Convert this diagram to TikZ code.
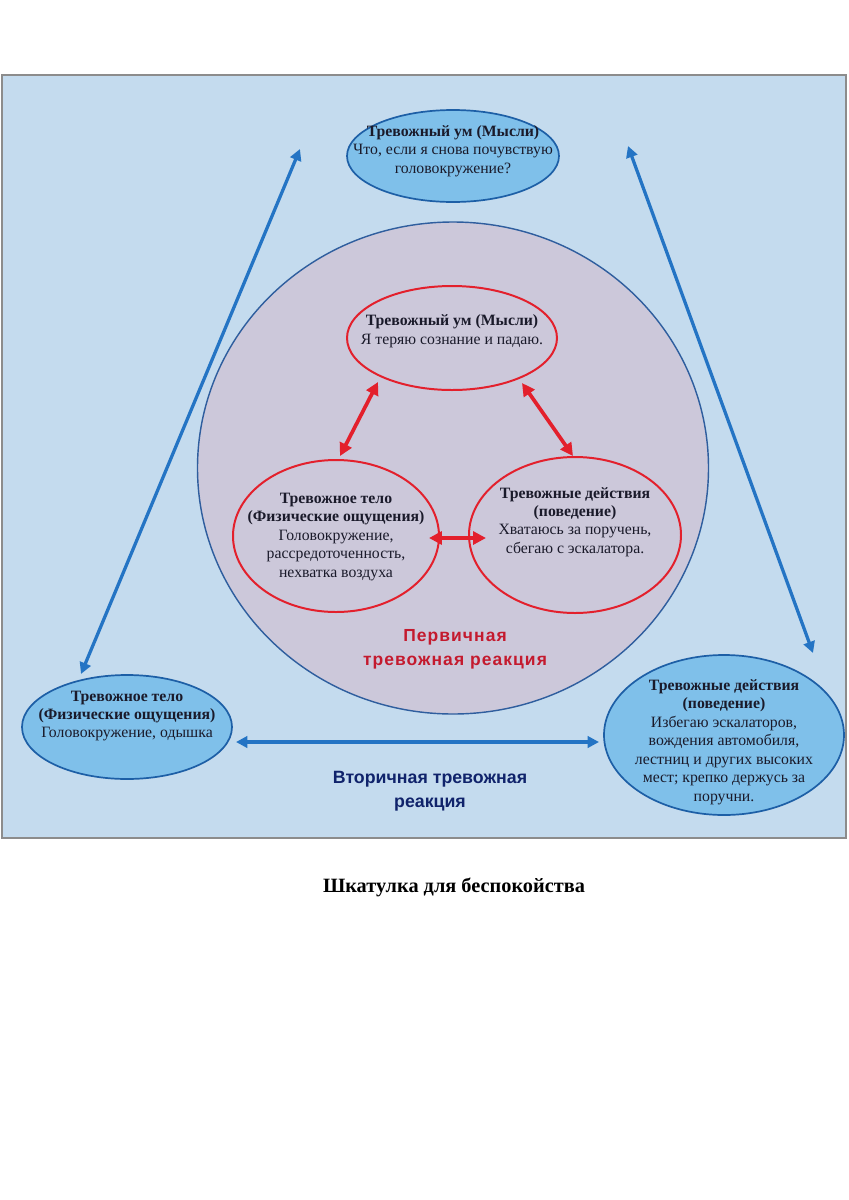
\documentclass[tikz,border=0pt]{standalone}
\usepackage{fontspec}
\setmainfont{Liberation Serif}
\newfontfamily\headsans{Liberation Sans}
\newfontfamily\headsanswide[LetterSpace=6]{Liberation Sans}
\usetikzlibrary{shapes.geometric, arrows.meta, positioning, calc}
\definecolor{panelblue}{HTML}{C4DBEE}
\definecolor{panelgray}{HTML}{8C8C8C}
\definecolor{circfill}{HTML}{CCC8DA}
\definecolor{circline}{HTML}{2F5E9E}
\definecolor{ovalfill}{HTML}{7FC0EA}
\definecolor{ovalline}{HTML}{1D5FA6}
\definecolor{loopred}{HTML}{E3202C}
\definecolor{arrowblue}{HTML}{2474C4}
\definecolor{labelred}{HTML}{C41A2E}
\definecolor{labelnavy}{HTML}{10236B}
\definecolor{inktext}{HTML}{1A1A2A}
\newcommand{\pu}{0.02473cm}

\begin{document}
\begin{tikzpicture}[
    x=0.02473cm, y=-0.02473cm,
    outeroval/.style={ellipse, draw=ovalline, line width=1.2pt, fill=ovalfill, inner sep=0pt},
    inneroval/.style={ellipse, draw=loopred, line width=1.4pt, inner sep=0pt},
    ovaltext/.style={align=center, text=inktext, font=\fontsize{11.1}{13}\selectfont, inner sep=0pt},
    redloop/.style={{Triangle[length=9pt, width=9pt]}-{Triangle[length=9pt, width=9pt]}, line width=2.6pt, draw=loopred},
    blueloop/.style={{Triangle[length=8pt, width=8pt]}-{Triangle[length=8pt, width=8pt]}, line width=2.3pt, draw=arrowblue},
    primarylabel/.style={align=center, text=labelred, font=\headsanswide\bfseries\fontsize{12.3}{17}\selectfont},
    secondarylabel/.style={align=center, text=labelnavy, font=\headsans\bfseries\fontsize{12.5}{17}\selectfont}
]
\useasboundingbox (0,0) rectangle (849,1200);
\fill[white] (0,0) rectangle (849,1200);

% Panel and primary circle
\node[draw=panelgray, line width=0.8pt, fill=panelblue, minimum width=844*\pu, minimum height=763*\pu, inner sep=0pt] (panel) at (424,456.5) {};
\node[ellipse, draw=circline, line width=1pt, fill=circfill, minimum width=511*\pu, minimum height=492*\pu, inner sep=0pt] (primary) at (453,468) {};

% Outer ovals
\node[outeroval, minimum width=212*\pu, minimum height=92*\pu] (mindB) at (453,156) {};
\node[outeroval, minimum width=210*\pu, minimum height=104*\pu] (bodyB) at (127,727) {};
\node[outeroval, minimum width=240*\pu, minimum height=160*\pu] (actB) at (724,735) {};

% Inner ovals
\node[inneroval, minimum width=210*\pu, minimum height=104*\pu] (mindA) at (452,338) {};
\node[inneroval, minimum width=206*\pu, minimum height=152*\pu] (bodyA) at (336,536) {};
\node[inneroval, minimum width=212*\pu, minimum height=156*\pu] (actA) at (575,535) {};

% Texts
\node[ovaltext] (mindB-t) at (453,151) {\textbf{Тревожный ум (Мысли)}\\Что, если я снова почувствую\\головокружение?};
\node[ovaltext] (bodyB-t) at (127,716) {\textbf{Тревожное тело}\\\textbf{(Физические ощущения)}\\Головокружение, одышка};
\node[ovaltext] (actB-t) at (724,742) {\textbf{Тревожные действия}\\\textbf{(поведение)}\\Избегаю эскалаторов,\\вождения автомобиля,\\лестниц и других высоких\\мест; крепко держусь за\\поручни.};
\node[ovaltext] (mindA-t) at (452,331) {\textbf{Тревожный ум (Мысли)}\\Я теряю сознание и падаю.};
\node[ovaltext] (bodyA-t) at (336,537) {\textbf{Тревожное тело}\\\textbf{(Физические ощущения)}\\Головокружение,\\рассредоточенность,\\нехватка воздуха};
\node[ovaltext] (actA-t) at (575,522) {\textbf{Тревожные действия}\\\textbf{(поведение)}\\Хватаюсь за поручень,\\сбегаю с эскалатора.};

\node[primarylabel] (primary-t) at (455,649) {Первичная\\тревожная реакция};
\node[secondarylabel] (secondary-t) at (430,791) {Вторичная тревожная\\реакция};

\node[font=\bfseries\fontsize{14.3}{17}\selectfont, text=black] (caption) at (454,887) {Шкатулка для беспокойства};

% Arrow ends
\coordinate (rA1) at (340,456);
\coordinate (rA2) at (378,382);
\coordinate (rB1) at (522,383);
\coordinate (rB2) at (573,456);
\coordinate (rC1) at (429,538);
\coordinate (rC2) at (486,538);
\coordinate (bA1) at (300,149);
\coordinate (bA2) at (81,674);
\coordinate (bB1) at (628,146);
\coordinate (bB2) at (813,653);
\coordinate (bC1) at (236,742);
\coordinate (bC2) at (599,742);

% Connections
\draw[redloop] (rA1) -- (rA2);
\draw[redloop] (rB1) -- (rB2);
\draw[redloop] (rC1) -- (rC2);
\draw[blueloop] (bA1) -- (bA2);
\draw[blueloop] (bB1) -- (bB2);
\draw[blueloop] (bC1) -- (bC2);
\end{tikzpicture}
\end{document}
